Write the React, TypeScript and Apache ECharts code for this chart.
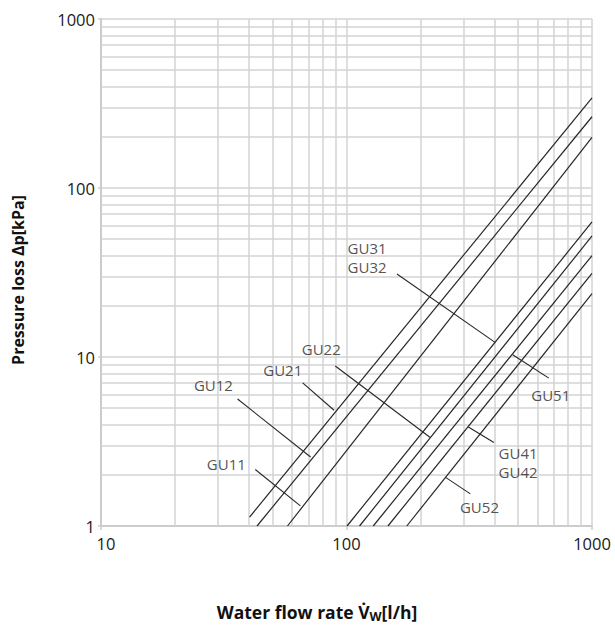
import React, { useEffect, useRef } from "react";
import * as echarts from "echarts";

// Characteristic lines: [flow l/h, pressure loss kPa] end points
const lineGU21 = [[40.3, 1.13], [1000, 341]];
const lineGU12 = [[43.2, 1], [1000, 264]];
const lineGU11 = [[57.5, 1], [1000, 199]];
const lineGU3132 = [[100.5, 1], [1000, 63]];
const lineGU22 = [[113, 1], [1000, 52]];
const lineGU51 = [[128.5, 1], [1000, 39.8]];
const lineGU4142 = [[147.5, 1], [1000, 31.3]];
const lineGU52 = [[176, 1], [1000, 23.7]];

const curves = [lineGU21, lineGU12, lineGU11, lineGU3132, lineGU22, lineGU51, lineGU4142, lineGU52];

// Minor gridlines (log decades)
const xMinorTicks = [20, 30, 40, 50, 60, 70, 80, 90, 200, 300, 400, 500, 600, 700, 800, 900];
const yMinorTicks = [2, 3, 4, 5, 6, 7, 8, 9, 20, 30, 40, 50, 60, 70, 80, 90, 200, 300, 400, 500, 600, 700, 800, 900];

// Annotation labels (names and anchor in data space)
const labelNames = ["GU31\nGU32", "GU22", "GU21", "GU12", "GU11", "GU51", "GU41\nGU42", "GU52"];
const labelAnchors = [
  [121.3, 38.6],
  [78.9, 11.1],
  [55.0, 8.37],
  [28.7, 6.8],
  [32.4, 2.32],
  [679, 5.93],
  [500, 2.36],
  [348, 1.3],
];

// Leader lines from label to curve
const leaderStarts = [
  [160.5, 31.0],
  [90.0, 8.84],
  [66.3, 7.03],
  [36.0, 5.64],
  [42.5, 2.16],
  [475.3, 10.31],
  [313.6, 3.85],
  [253.3, 1.94],
];
const leaderEnds = [
  [402.9, 12.2],
  [218.6, 3.35],
  [89.0, 4.84],
  [71.4, 2.56],
  [64.9, 1.315],
  [667, 7.5],
  [398.4, 3.12],
  [319.5, 1.55],
];

const FONT = "'Open Sans', 'Noto Sans', sans-serif";
const GRID = "#d3d3d3";
const INK = "#262626";

export default function App() {
  const ref = useRef<HTMLDivElement>(null);

  useEffect(() => {
    if (!ref.current) return;
    const chart = echarts.init(ref.current, undefined, { renderer: "svg" });

    const series: any[] = [
      {
        type: "line",
        name: "grid",
        data: [[10, 1]],
        showSymbol: false,
        symbol: "none",
        silent: true,
        z: 1,
        lineStyle: { opacity: 0 },
        markLine: {
          z: 1,
          silent: true,
          symbol: ["none", "none"],
          label: { show: false },
          lineStyle: { color: GRID, width: 1.5, type: "solid" },
          emphasis: { disabled: true },
          animation: false,
          data: [
            ...xMinorTicks.map((v) => ({ xAxis: v })),
            ...yMinorTicks.map((v) => ({ yAxis: v })),
          ],
        },
      },
      ...curves.map((d) => ({
        type: "line",
        data: d,
        showSymbol: false,
        symbol: "none",
        silent: true,
        z: 3,
        lineStyle: { color: INK, width: 1.2 },
      })),
      {
        type: "line",
        name: "leaders",
        data: [[10, 1]],
        showSymbol: false,
        symbol: "none",
        silent: true,
        z: 4,
        lineStyle: { opacity: 0 },
        markLine: {
          z: 4,
          silent: true,
          symbol: ["none", "none"],
          label: { show: false },
          lineStyle: { color: INK, width: 1.1, type: "solid" },
          emphasis: { disabled: true },
          animation: false,
          data: leaderStarts.map((s, i) => [{ coord: s }, { coord: leaderEnds[i] }]),
        },
      },
      {
        type: "scatter",
        name: "labels",
        symbolSize: 1,
        silent: true,
        z: 5,
        itemStyle: { color: "rgba(0,0,0,0)" },
        label: {
          show: true,
          position: "inside",
          formatter: "{b}",
          color: INK,
          fontSize: 15,
          lineHeight: 19,
          fontFamily: FONT,
        },
        data: labelNames.map((n, i) => ({ name: n, value: labelAnchors[i] })),
      },
    ];

    chart.setOption({
      animation: false,
      backgroundColor: "#ffffff",
      grid: { left: 101, right: 23, top: 19, bottom: 104, containLabel: false },
      xAxis: {
        type: "log",
        logBase: 10,
        min: 10,
        max: 1000,
        axisLine: { show: true, lineStyle: { color: "#cccccc", width: 2 } },
        axisTick: { show: true, length: 4, lineStyle: { color: "#cccccc", width: 1.5 } },
        axisLabel: {
          color: "#1a1a1a",
          fontSize: 16.5,
          lineHeight: 16,
          fontFamily: FONT,
          margin: 9,
          formatter: (v: number) => {
            const s = String(Math.round(v));
            return Math.round(v) === 10 ? "{first|" + s + "}" : s;
          },
          rich: {
            first: { fontSize: 16.5, fontFamily: FONT, color: "#1a1a1a", padding: [0, 0, 0, 10] },
          },
        },
        splitLine: { show: true, lineStyle: { color: GRID, width: 1.5 } },
        minorTick: { show: false },
        minorSplitLine: { show: false },
      },
      yAxis: {
        type: "log",
        logBase: 10,
        min: 1,
        max: 1000,
        axisLine: { show: true, lineStyle: { color: "#cccccc", width: 2 } },
        axisTick: { show: true, length: 3, lineStyle: { color: "#cccccc", width: 1.5 } },
        axisLabel: {
          color: "#1a1a1a",
          fontSize: 16.5,
          lineHeight: 14,
          fontFamily: FONT,
          margin: 6,
          padding: [0, 0, 3, 0],
          formatter: (v: number) => String(Math.round(v)),
        },
        splitLine: { show: true, lineStyle: { color: GRID, width: 1.5 } },
        minorTick: { show: false },
        minorSplitLine: { show: false },
      },
      graphic: [
        {
          type: "text",
          x: 18,
          y: 280,
          rotation: Math.PI / 2,
          style: {
            text: "Pressure loss Δp[kPa]",
            fontSize: 16,
            fontWeight: "bold",
            fontFamily: FONT,
            fill: "#111",
            align: "center",
            verticalAlign: "middle",
          },
        },
        {
          type: "text",
          x: 317,
          y: 612,
          style: {
            text: "{m|Water flow rate V\u0307}{s|W}{m|[l/h]}",
            align: "center",
            verticalAlign: "middle",
            rich: {
              m: { fontSize: 17.5, fontWeight: "bold", fontFamily: FONT, fill: "#111", lineHeight: 22 },
              s: { fontSize: 12.5, fontWeight: "bold", fontFamily: FONT, fill: "#111", lineHeight: 12, verticalAlign: "bottom" },
            },
          },
        },
      ],
      series,
    });

    return () => chart.dispose();
  }, []);

  return (
    <div
      ref={ref}
      style={{ position: "fixed", left: 0, top: 0, width: 615, height: 630, background: "#fff" }}
    />
  );
}
